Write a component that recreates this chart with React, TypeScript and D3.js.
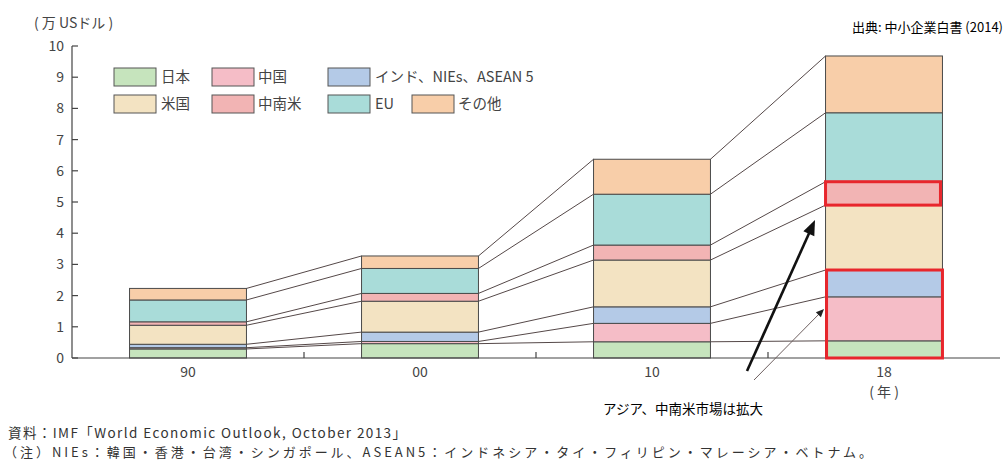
import React from 'react';
import * as d3 from 'd3';

// Years on the category axis
const years = ['90', '00', '10', '18'];

// Region names (stack order, bottom to top)
const regions = ['日本', '中国', 'インド、NIEs、ASEAN 5', '米国', '中南米', 'EU', 'その他'];

// Values per region, one per year (万 USドル)
const japan = [0.29, 0.46, 0.52, 0.55];
const china = [0.04, 0.07, 0.59, 1.41];
const asia = [0.11, 0.3, 0.53, 0.86];
const usa = [0.61, 0.99, 1.5, 2.08];
const latam = [0.11, 0.25, 0.48, 0.75];
const eu = [0.7, 0.8, 1.63, 2.21];
const other = [0.37, 0.4, 1.12, 1.82];

const yTicks = [0, 1, 2, 3, 4, 5, 6, 7, 8, 9, 10];

const colors = ['#c6e4bd', '#f5bdc7', '#b4cae7', '#f3e3c2', '#f2b4b4', '#a9dcd9', '#f8cea9'];

const W = 1007;
const H = 464;
const FONT = '"Noto Sans CJK JP", "Noto Sans", sans-serif';

export default function App() {
  const seriesValues = [japan, china, asia, usa, latam, eu, other];
  const rows = years.map((yr, i) => {
    const r: Record<string, any> = { year: yr };
    regions.forEach((name, k) => (r[name] = seriesValues[k][i]));
    return r;
  });
  const stacked = d3.stack<any>().keys(regions)(rows);

  const x = d3.scaleBand<string>().domain(years).range([72, 1000]).paddingInner(0.496).paddingOuter(0.248);
  const y = d3.scaleLinear().domain([0, 10]).range([358, 46]);
  const bw = x.bandwidth();

  // Mid-points between bars for the small x-axis ticks
  const midTicks = years.slice(0, -1).map((yr, i) => (x(yr)! + bw + x(years[i + 1])!) / 2);

  const legendItems = [
    { k: 0, sx: 114, tx: 161, row: 0 },
    { k: 1, sx: 212, tx: 258, row: 0 },
    { k: 2, sx: 328, tx: 375, row: 0 },
    { k: 3, sx: 114, tx: 161, row: 1 },
    { k: 4, sx: 212, tx: 258, row: 1 },
    { k: 5, sx: 328, tx: 375, row: 1 },
    { k: 6, sx: 412, tx: 458, row: 1 },
  ];
  const rowY = [68, 95];

  const last = years.length - 1;
  const lastX = x(years[last])!;
  const latamSeg = stacked[4][last];
  const lowerTop = stacked[2][last][1];

  // Thick annotation arrow
  const a1 = { x1: 747, y1: 371, x2: 815, y2: 220 };
  // Thin arrow
  const a2 = { x1: 754, y1: 380, x2: 822, y2: 311 };

  const head = (x1: number, y1: number, x2: number, y2: number, len: number, half: number) => {
    const ang = Math.atan2(y2 - y1, x2 - x1);
    const bx = x2 - len * Math.cos(ang);
    const by = y2 - len * Math.sin(ang);
    const px = -Math.sin(ang) * half;
    const py = Math.cos(ang) * half;
    return `M${x2},${y2}L${bx + px},${by + py}L${bx - px},${by - py}Z`;
  };

  return (
    <svg width={W} height={H} style={{ position: 'absolute', left: 0, top: 0, background: '#fff' }} fontFamily={FONT}>
      <rect x={0} y={0} width={W} height={H} fill="#fff" />

      {/* axis title */}
      <text x={34} y={28} fontSize={14} fill="#444">( 万 USドル )</text>

      {/* source */}
      <text x={1003} y={32} fontSize={13} fill="#000" textAnchor="end">出典: 中小企業白書 (2014)</text>

      {/* y axis */}
      <line x1={72} x2={72} y1={y(10)} y2={y(0)} stroke="#444" strokeWidth={1.2} />
      {yTicks.map((t) => (
        <g key={t}>
          <line x1={72} x2={78} y1={y(t)} y2={y(t)} stroke="#444" strokeWidth={1.2} />
          <text x={64} y={y(t) + 5} fontSize={14} fill="#444" textAnchor="end">{t}</text>
        </g>
      ))}

      {/* connector lines between bars */}
      {stacked.map((s, k) =>
        years.slice(0, -1).map((yr, i) => (
          <line
            key={`c${k}-${i}`}
            x1={x(yr)! + bw}
            y1={y(s[i][1])}
            x2={x(years[i + 1])!}
            y2={y(s[i + 1][1])}
            stroke="#554848"
            strokeWidth={1}
          />
        ))
      )}

      {/* stacked bars */}
      {stacked.map((s, k) =>
        s.map((d, i) => (
          <rect
            key={`b${k}-${i}`}
            x={x(years[i])!}
            y={y(d[1])}
            width={bw}
            height={y(d[0]) - y(d[1])}
            fill={colors[k]}
            stroke="#4a4a4a"
            strokeWidth={1}
          />
        ))
      )}

      {/* x axis */}
      <line x1={72} x2={1000} y1={y(0)} y2={y(0)} stroke="#444" strokeWidth={1.2} />
      {midTicks.map((m, i) => (
        <line key={`m${i}`} x1={m} x2={m} y1={y(0)} y2={y(0) - 6} stroke="#444" strokeWidth={1.2} />
      ))}
      {years.map((yr) => (
        <text key={yr} x={x(yr)! + bw / 2} y={377} fontSize={14} fill="#444" textAnchor="middle">{yr}</text>
      ))}
      <text x={x(years[last])! + bw / 2} y={397} fontSize={14} fill="#444" textAnchor="middle">( 年 )</text>

      {/* highlight boxes on the last bar */}
      <rect
        x={lastX}
        y={y(latamSeg[1])}
        width={bw - 2}
        height={y(latamSeg[0]) - y(latamSeg[1])}
        fill="none"
        stroke="#e8262c"
        strokeWidth={3}
      />
      <rect
        x={lastX + 1}
        y={y(lowerTop)}
        width={bw - 1}
        height={y(0) - y(lowerTop)}
        fill="none"
        stroke="#e8262c"
        strokeWidth={3}
      />

      {/* legend */}
      {legendItems.map((it) => (
        <g key={`l${it.k}`}>
          <rect x={it.sx} y={rowY[it.row]} width={42} height={18} fill={colors[it.k]} stroke="#555" strokeWidth={1} />
          <text x={it.tx} y={rowY[it.row] + 14} fontSize={14.5} fill="#444">{regions[it.k]}</text>
        </g>
      ))}

      {/* thin arrow */}
      <line x1={a2.x1} y1={a2.y1} x2={a2.x2} y2={a2.y2} stroke="#6e6060" strokeWidth={1} />
      <path d={head(a2.x1, a2.y1, a2.x2 + 2, a2.y2 - 2, 8, 3.5)} fill="#222" />

      {/* annotation box */}
      <rect x={582} y={390} width={194} height={30} fill="#fff" />
      <text x={603} y={414} fontSize={13.5} fill="#000">アジア、中南米市場は拡大</text>

      {/* thick arrow */}
      <line x1={a1.x1} y1={a1.y1} x2={a1.x2 - 4} y2={a1.y2 + 9} stroke="#111" strokeWidth={2.6} />
      <path d={head(a1.x1, a1.y1, a1.x2, a1.y2, 15, 6)} fill="#111" />

      {/* notes */}
      <text x={8} y={438} fontSize={13.5} fill="#333" textLength={398} lengthAdjust="spacing">
        資料：IMF「World Economic Outlook, October 2013」
      </text>
      <text x={4} y={457} fontSize={13} fill="#333" textLength={868} lengthAdjust="spacing">
        （注）NIEs：韓国・香港・台湾・シンガポール、ASEAN5：インドネシア・タイ・フィリピン・マレーシア・ベトナム。
      </text>
    </svg>
  );
}
